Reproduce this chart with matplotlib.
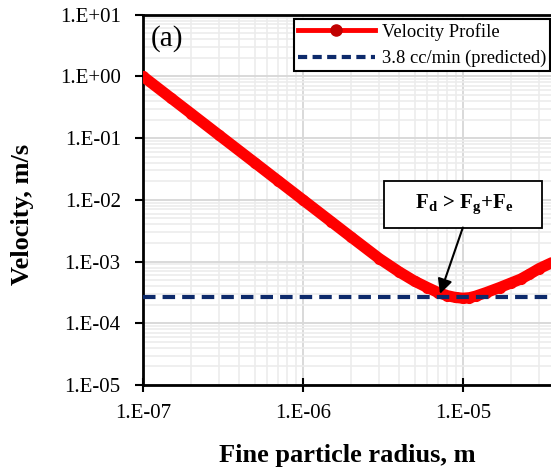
import matplotlib
matplotlib.use("Agg")
import matplotlib.pyplot as plt
from matplotlib.lines import Line2D

plt.rcParams['font.family'] = ['Liberation Serif', 'DejaVu Serif']
plt.rcParams['mathtext.fontset'] = 'custom'
plt.rcParams['mathtext.rm'] = 'Liberation Serif'
plt.rcParams['mathtext.bf'] = 'Liberation Serif:bold'

# Fine particle radius (m) and critical velocity (m/s)
radius = [1.0e-7, 1.5e-7, 2.0e-7, 3.0e-7, 5.0e-7, 7.0e-7, 1.0e-6, 1.5e-6,
          2.0e-6, 3.0e-6, 4.0e-6, 5.0e-6, 6.0e-6, 7.0e-6, 8.0e-6, 9.0e-6,
          1.0e-5, 1.1e-5, 1.2e-5, 1.4e-5, 1.7e-5, 2.0e-5, 2.3e-5, 2.6e-5,
          3.0e-5, 3.6e-5]
velocity = [1.0e0, 4.44e-1, 2.5e-1, 1.11e-1, 4.0e-2, 2.04e-2, 1.0e-2, 4.45e-3,
            2.5e-3, 1.12e-3, 6.8e-4, 4.8e-4, 3.8e-4, 3.15e-4, 2.8e-4, 2.62e-4,
            2.55e-4, 2.6e-4, 2.75e-4, 3.15e-4, 3.8e-4, 4.5e-4, 5.2e-4, 6.2e-4,
            7.7e-4, 9.6e-4]
predicted_velocity = 2.63e-4

series_label = "Velocity Profile"
predicted_label = "3.8 cc/min (predicted)"
y_ticks = [1e-5, 1e-4, 1e-3, 1e-2, 1e-1, 1e0, 1e1]
y_tick_labels = ["1.E-05", "1.E-04", "1.E-03", "1.E-02", "1.E-01", "1.E+00", "1.E+01"]
x_ticks = [1e-7, 1e-6, 1e-5]
x_tick_labels = ["1.E-07", "1.E-06", "1.E-05"]

W, H = 551, 467
fig = plt.figure(figsize=(W / 100, H / 100), dpi=100)
ax = fig.add_axes([143 / W, (H - 385) / H, (W - 143) / W, (385 - 14.7) / H])

ax.set_xscale('log')
ax.set_yscale('log')
ax.set_xlim(1e-7, 10 ** (-5 + (W - 462.7) / 160.2))
ax.set_ylim(1e-5, 1e1)

ax.grid(True, which='major', color='#d9d9d9', lw=1.4, zorder=0)
ax.grid(True, which='minor', color='#ececec', lw=1.2, zorder=0)
ax.set_axisbelow(True)

red = '#ff0000'
ax.plot(radius, velocity, color=red, lw=8, marker='o', ms=7,
        mfc=red, mec=red, solid_capstyle='round', zorder=3)
ax.axhline(predicted_velocity, color='#0d2a6b', lw=3, ls=(0, (3, 1.7)), zorder=4)

ax.set_xticks(x_ticks)
ax.set_xticklabels(x_tick_labels)
ax.set_yticks(y_ticks)
ax.set_yticklabels(y_tick_labels)
ax.tick_params(axis='both', which='major', labelsize=15, length=6, width=1.5,
               color='black', direction='out')
ax.tick_params(axis='y', which='major', pad=10)
ax.tick_params(axis='x', which='major', direction='inout', length=10, pad=9)
ax.tick_params(axis='both', which='minor', length=0)

for side in ('left', 'bottom', 'top'):
    ax.spines[side].set_linewidth(2)
    ax.spines[side].set_color('black')
ax.spines['right'].set_visible(False)

ax.set_xlabel("Fine particle radius, m", fontsize=19, fontweight='bold', labelpad=15)
ax.set_ylabel("Velocity, m/s", fontsize=19, fontweight='bold')
ax.yaxis.set_label_coords(-0.267, 0.46)

ax.text(0.02, 0.935, "(a)", transform=ax.transAxes, fontsize=21,
        ha='left', va='center')

handles = [
    Line2D([], [], color=red, lw=3.5, marker='o', ms=8, mfc='#c00000', mec='#c00000'),
    Line2D([], [], color='#0d2a6b', lw=3, ls=(0, (2.2, 1.3))),
]
leg = ax.legend(handles, [series_label, predicted_label], loc='upper right',
                bbox_to_anchor=(1.0 - 1 / (W - 143), 1 - 4.5 / 370.3),
                fontsize=13.3, frameon=True, fancybox=False, framealpha=1,
                edgecolor='black', handlelength=4.15, handletextpad=0.4,
                borderpad=0.2, labelspacing=0.5, borderaxespad=0.0)
leg.get_frame().set_linewidth(1.5)

# Force-balance callout and its arrow to the velocity minimum
ax.text(1.0e-5, 8.4e-3, "    $\\mathbf{F_d}$ > $\\mathbf{F_g}$+$\\mathbf{F_e}$    ",
        fontsize=15, fontweight='bold', ha='center', va='center',
        bbox=dict(boxstyle='square,pad=0.55', fc='white', ec='black', lw=1.3),
        zorder=6)
ax.annotate("", xy=(7.2e-6, 3.0e-4), xytext=(1.0e-5, 3.56e-3),
            arrowprops=dict(arrowstyle='-|>', color='black', lw=1.5,
                            mutation_scale=22, shrinkA=0, shrinkB=0),
            zorder=6)

fig.savefig("out.png", dpi=100)
